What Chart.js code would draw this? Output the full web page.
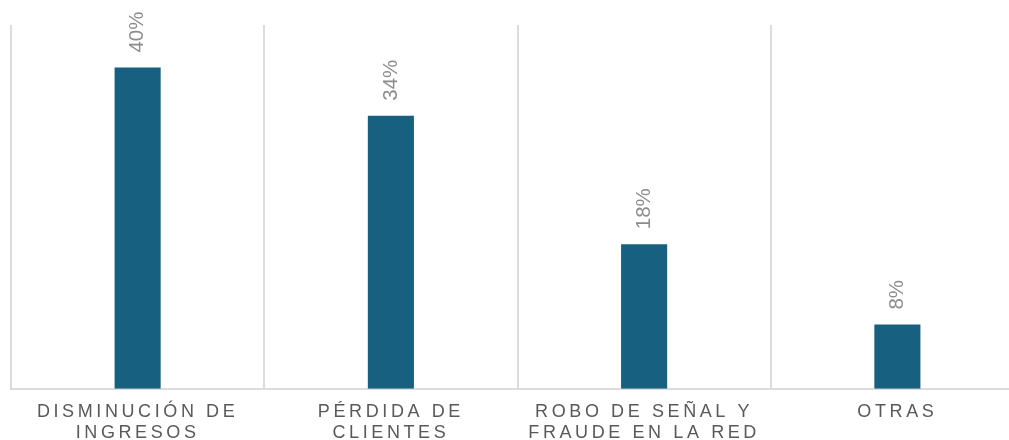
<!DOCTYPE html>
<html>
<head>
<meta charset="utf-8">
<script src="https://cdn.jsdelivr.net/npm/chart.js@4"></script>
<style>
  html, body { margin: 0; padding: 0; overflow: hidden; background: #fff; }
  #wrap { width: 1024px; height: 456px; }
</style>
</head>
<body>
<div id="wrap"><canvas id="myChart"></canvas></div>
<script>
var categories = [
    ['DISMINUCIÓN DE', 'INGRESOS'],
    ['PÉRDIDA DE', 'CLIENTES'],
    ['ROBO DE SEÑAL Y', 'FRAUDE EN LA RED'],
    ['OTRAS']
];
var values = [40, 34, 18, 8];
var valueLabels = ['40%', '34%', '18%', '8%'];

// spaced-out category text
var spacing = {
    id: 'spacing',
    beforeDraw: function (chart) { chart.ctx.letterSpacing = '3.6px'; },
    afterDraw: function (chart) { chart.ctx.letterSpacing = '0px'; }
};

// rotated value labels above the bars
var barLabels = {
    id: 'barLabels',
    afterDraw: function (chart) {
        var ctx = chart.ctx;
        var meta = chart.getDatasetMeta(0);
        ctx.save();
        ctx.letterSpacing = '0px';
        ctx.fillStyle = '#8c8c8c';
        ctx.font = '20.5px "Liberation Sans", Arial, sans-serif';
        ctx.textAlign = 'left';
        ctx.textBaseline = 'middle';
        meta.data.forEach(function (bar, i) {
            ctx.save();
            ctx.translate(bar.x, bar.y - 15);
            ctx.rotate(-Math.PI / 2);
            ctx.fillText(valueLabels[i], 0, 0);
            ctx.restore();
        });
        ctx.restore();
    }
};

var ctx = document.getElementById('myChart');

var myChart = new Chart(ctx, {
    type: 'bar',
    data: {
        labels: categories,
        datasets: [{
            data: values,
            backgroundColor: '#17607f',
            barPercentage: 0.182,
            categoryPercentage: 1
        }]
    },
    options: {
        responsive: true,
        maintainAspectRatio: false,
        animation: false,
        layout: { padding: { left: 11, top: 25, right: 0, bottom: 0 } },
        plugins: { legend: { display: false }, tooltip: { enabled: false } },
        scales: {
            x: {
                offset: true,
                grid: { offset: true, color: '#dcdcdc', lineWidth: 2, drawTicks: false },
                border: { color: '#dcdcdc', width: 2 },
                ticks: {
                    color: '#595959',
                    padding: 12,
                    maxRotation: 0,
                    autoSkip: false,
                    font: { family: '"Liberation Sans", Arial, sans-serif', size: 18, lineHeight: 1.2 }
                }
            },
            y: {
                display: false,
                min: 0,
                max: 45.3
            }
        }
    },
    plugins: [spacing, barLabels]
});
</script>
</body>
</html>
